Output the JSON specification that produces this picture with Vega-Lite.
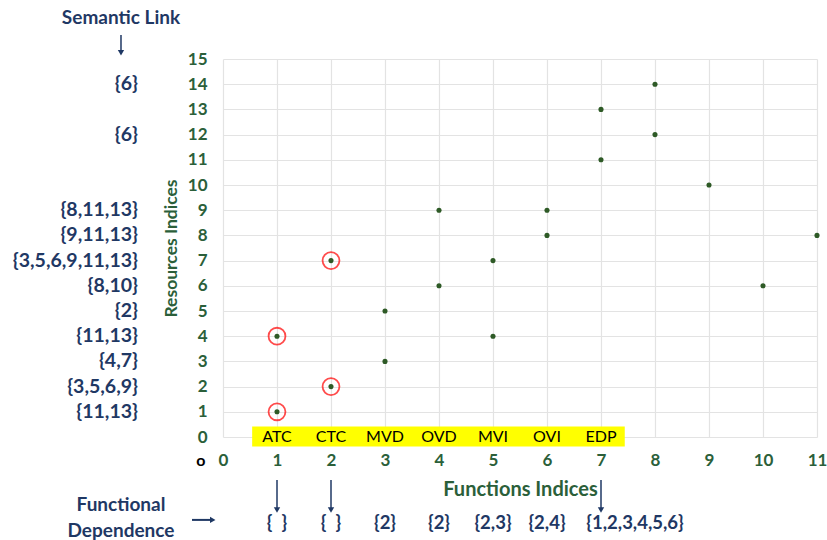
{
  "$schema": "https://vega.github.io/schema/vega-lite/v6.json",
  "width": 594,
  "height": 378,
  "autosize": {"type": "none"},
  "padding": {"left": 223, "top": 59, "right": 10, "bottom": 103},
  "background": "white",
  "config": {
    "view": {"stroke": null},
    "font": "Lato",
    "axis": {"gridColor": "#E3E3E3", "gridWidth": 1.2, "domain": false, "ticks": false, "labelOverlap": false, "labelFlush": false, "labelBound": false, "tickMinStep": 1},
    "axisY": {"tickCount": 20},
    "axisX": {"tickCount": 15}
  },
  "datasets": {
    "points": [
      {"x": 1, "y": 1}, {"x": 1, "y": 4}, {"x": 2, "y": 2}, {"x": 2, "y": 7},
      {"x": 3, "y": 3}, {"x": 3, "y": 5}, {"x": 4, "y": 6}, {"x": 4, "y": 9},
      {"x": 5, "y": 4}, {"x": 5, "y": 7}, {"x": 6, "y": 8}, {"x": 6, "y": 9},
      {"x": 7, "y": 11}, {"x": 7, "y": 13}, {"x": 8, "y": 12}, {"x": 8, "y": 14},
      {"x": 9, "y": 10}, {"x": 10, "y": 6}, {"x": 11, "y": 8}
    ],
    "circled": [{"x": 1, "y": 1}, {"x": 1, "y": 4}, {"x": 2, "y": 2}, {"x": 2, "y": 7}],
    "band": [{"x": 0.54, "x2": 7.44, "y": -0.38, "y2": 0.42}],
    "functions": [
      {"x": 1, "name": "ATC"}, {"x": 2, "name": "CTC"}, {"x": 3, "name": "MVD"},
      {"x": 4, "name": "OVD"}, {"x": 5, "name": "MVI"}, {"x": 6, "name": "OVI"},
      {"x": 7, "name": "EDP"}
    ],
    "semantic": [
      {"y": 14, "label": "{6}"}, {"y": 12, "label": "{6}"},
      {"y": 9, "label": "{8,11,13}"}, {"y": 8, "label": "{9,11,13}"},
      {"y": 7, "label": "{3,5,6,9,11,13}"}, {"y": 6, "label": "{8,10}"},
      {"y": 5, "label": "{2}"}, {"y": 4, "label": "{11,13}"},
      {"y": 3, "label": "{4,7}"}, {"y": 2, "label": "{3,5,6,9}"},
      {"y": 1, "label": "{11,13}"}
    ],
    "dependence": [
      {"x": 1, "label": "{\u00a0\u00a0}"}, {"x": 2, "label": "{\u00a0\u00a0}"}, {"x": 3, "label": "{2}"},
      {"x": 4, "label": "{2}"}, {"x": 5, "label": "{2,3}"}, {"x": 6, "label": "{2,4}"},
      {"x": 7.63, "label": "{1,2,3,4,5,6}"}
    ],
    "arrows": [{"x": 1}, {"x": 2}, {"x": 7}],
    "notes": [
      {"x": -1.889, "y": 16.63, "label": "Semantic Link"},
      {"x": -1.889, "y": -2.7, "label": "Functional"},
      {"x": -1.889, "y": -3.72, "label": "Dependence"}
    ]
  },
  "layer": [
    {
      "data": {"name": "points"},
      "mark": {"type": "point", "filled": true, "opacity": 1, "size": 26, "color": "#2E5A26"},
      "encoding": {
        "x": {
          "field": "x", "type": "quantitative",
          "scale": {"domain": [0, 11], "nice": false, "zero": false},
          "axis": {
            "tickCount": 15,
            "title": "Functions Indices",
            "titleFont": "Lato", "titleFontSize": 20, "titleFontWeight": "bold",
            "titleColor": "#2B5F3A", "titlePadding": 11,
            "labelFont": "Lato", "labelFontSize": 17, "labelFontWeight": "bold",
            "labelColor": "#2B5F3A", "labelPadding": 15
          }
        },
        "y": {
          "field": "y", "type": "quantitative",
          "scale": {"domain": [0, 15], "nice": false, "zero": false},
          "axis": {
            "tickCount": 20,
            "title": "Resources Indices",
            "titleFont": "Lato", "titleFontSize": 17.5, "titleFontWeight": "bold",
            "titleColor": "#2B5F3A", "titlePadding": 7,
            "labelFont": "Lato", "labelFontSize": 17, "labelFontWeight": "bold",
            "labelColor": "#2B5F3A", "labelPadding": 16
          }
        }
      }
    },
    {
      "data": {"name": "circled"},
      "mark": {"type": "point", "filled": false, "size": 285, "color": "#FF0000", "strokeWidth": 1.8},
      "encoding": {
        "x": {"field": "x", "type": "quantitative"},
        "y": {"field": "y", "type": "quantitative"}
      }
    },
    {
      "data": {"name": "band"},
      "mark": {"type": "rect", "color": "#FFFF00", "opacity": 1},
      "encoding": {
        "x": {"field": "x", "type": "quantitative"},
        "x2": {"field": "x2"},
        "y": {"field": "y", "type": "quantitative"},
        "y2": {"field": "y2"}
      }
    },
    {
      "data": {"name": "functions"},
      "mark": {"type": "text", "font": "Lato", "fontSize": 16, "color": "black", "baseline": "middle", "align": "center"},
      "encoding": {
        "x": {"field": "x", "type": "quantitative"},
        "y": {"datum": 0, "type": "quantitative"},
        "text": {"field": "name"}
      }
    },
    {
      "data": {"name": "semantic"},
      "mark": {"type": "text", "font": "Lato", "fontSize": 19.5, "fontWeight": "bold", "color": "#1F3864", "baseline": "middle", "align": "right"},
      "encoding": {
        "x": {"datum": -1.574, "type": "quantitative"},
        "y": {"field": "y", "type": "quantitative"},
        "text": {"field": "label"}
      }
    },
    {
      "data": {"name": "dependence"},
      "mark": {"type": "text", "font": "Lato", "fontSize": 18.5, "fontWeight": "bold", "color": "#1F3864", "baseline": "middle", "align": "center"},
      "encoding": {
        "x": {"field": "x", "type": "quantitative"},
        "y": {"datum": -3.41, "type": "quantitative"},
        "text": {"field": "label"}
      }
    },
    {
      "data": {"name": "notes"},
      "mark": {"type": "text", "font": "Lato", "fontSize": 19, "fontWeight": "bold", "color": "#1F3864", "baseline": "middle", "align": "center"},
      "encoding": {
        "x": {"field": "x", "type": "quantitative"},
        "y": {"field": "y", "type": "quantitative"},
        "text": {"field": "label"}
      }
    },
    {
      "data": {"name": "arrows"},
      "mark": {"type": "rule", "color": "#1F3864", "strokeWidth": 1.5},
      "encoding": {
        "x": {"field": "x", "type": "quantitative"},
        "y": {"datum": -1.71, "type": "quantitative"},
        "y2": {"datum": -2.85}
      }
    },
    {
      "data": {"name": "arrows"},
      "mark": {"type": "point", "shape": "triangle-down", "filled": true, "opacity": 1, "size": 40, "color": "#1F3864"},
      "encoding": {
        "x": {"field": "x", "type": "quantitative"},
        "y": {"datum": -2.9, "type": "quantitative"}
      }
    },
    {
      "data": {"values": [{"x": -1.889}]},
      "mark": {"type": "rule", "color": "#1F3864", "strokeWidth": 1.5},
      "encoding": {
        "x": {"field": "x", "type": "quantitative"},
        "y": {"datum": 15.95, "type": "quantitative"},
        "y2": {"datum": 15.3}
      }
    },
    {
      "data": {"values": [{"x": -1.889}]},
      "mark": {"type": "point", "shape": "triangle-down", "filled": true, "opacity": 1, "size": 40, "color": "#1F3864"},
      "encoding": {
        "x": {"field": "x", "type": "quantitative"},
        "y": {"datum": 15.25, "type": "quantitative"}
      }
    },
    {
      "data": {"values": [{"y": -3.29}]},
      "mark": {"type": "rule", "color": "#1F3864", "strokeWidth": 2},
      "encoding": {
        "x": {"datum": -0.574, "type": "quantitative"},
        "x2": {"datum": -0.22},
        "y": {"field": "y", "type": "quantitative"}
      }
    },
    {
      "data": {"values": [{"y": -3.29}]},
      "mark": {"type": "point", "shape": "triangle-right", "filled": true, "opacity": 1, "size": 40, "color": "#1F3864"},
      "encoding": {
        "x": {"datum": -0.19, "type": "quantitative"},
        "y": {"field": "y", "type": "quantitative"}
      }
    },
    {
      "data": {"values": [{"label": "o"}]},
      "mark": {"type": "text", "font": "Lato", "fontSize": 16, "fontWeight": "bold", "color": "black", "baseline": "middle", "align": "center"},
      "encoding": {
        "x": {"datum": -0.41, "type": "quantitative"},
        "y": {"datum": -0.97, "type": "quantitative"},
        "text": {"field": "label"}
      }
    }
  ]
}
